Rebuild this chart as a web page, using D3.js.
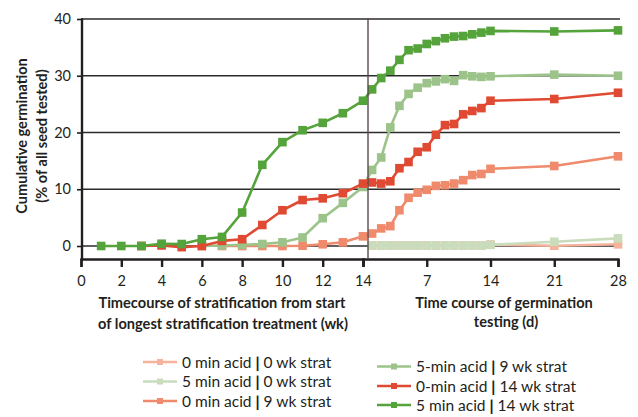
<!DOCTYPE html>
<html><head><meta charset="utf-8">
<script src="https://cdn.jsdelivr.net/npm/d3@7"></script>
<style>
html,body{margin:0;padding:0;background:#fff;}
svg{display:block;font-family:Lato,"Open Sans",sans-serif;}
</style></head>
<body>
<svg id="chart" width="638" height="417"></svg>
<script>
// ---- data ----
const weeks = [1,2,3,4,5,6,7,8,9,10,11,12,13,14];
const days  = [1,2,3,4,5,6,7,8,9,10,11,12,13,14,21,28];
const weekTicks = [0,2,4,6,8,10,12,14];
const dayTicks = [7,14,21,28];
const yTicks = [0,10,20,30,40];

const seriesNames = [
  ["0 min acid ", " 0 wk strat"],
  ["5 min acid  ", " 0 wk strat"],
  ["0 min acid ", " 9 wk strat"],
  ["5-min acid ", " 9 wk strat"],
  ["0-min acid ", " 14 wk strat"],
  ["5 min acid ", " 14 wk strat"]
];
const seriesColors = ["#f5b39c","#c9ddbd","#ef8a6c","#9cc48a","#e04a33","#55a33b"];

// left segment (weeks 1..14), null = not measured
const left0 = [null,null,null,null,null,null,null,null,null,null,null,null,null,null];
const left1 = [null,null,null,null,null,null,null,null,null,null,null,null,null,null];
const left2 = [null,null,null,null,null,null,0,0,0,0,0.05,0.3,0.65,1.7];
const left3 = [null,null,null,null,null,0,0.1,0.2,0.35,0.65,1.5,4.9,7.6,10.4];
const left4 = [null,null,0,0.1,-0.2,0,0.9,1.2,3.7,6.3,8.1,8.4,9.3,11.0];
const left5 = [0,0,0,0.4,0.35,1.2,1.6,5.9,14.3,18.3,20.4,21.7,23.4,25.6];

// right segment (days 1..14, 21, 28)
const right0 = [0.1,0.1,0.1,0.1,0.1,0.1,0.1,0.1,0.1,0.1,0.1,0.1,0.1,0.25,0.05,0.3];
const right1 = [0.1,0.1,0.1,0.1,0.1,0.1,0.1,0.1,0.1,0.1,0.1,0.1,0.1,0.2,0.75,1.35];
const right2 = [2.2,3.1,3.5,6.3,8.5,9.4,9.9,10.6,10.7,11.0,11.6,12.5,12.7,13.6,14.1,15.8];
const right3 = [13.4,15.6,20.9,24.7,26.8,27.9,28.7,29.0,29.4,29.1,30.1,29.9,29.8,29.9,30.2,30.0];
const right4 = [11.2,11.0,11.4,13.7,14.8,16.6,17.4,19.6,21.3,21.5,23.2,23.8,24.3,25.6,25.9,27.0];
const right5 = [27.6,29.6,30.9,32.8,34.5,34.8,35.6,36.1,36.6,36.9,37.0,37.3,37.6,37.9,37.8,38.0];

const lefts = [left0,left1,left2,left3,left4,left5];
const rights = [right0,right1,right2,right3,right4,right5];

// ---- scales ----
const svg = d3.select("#chart");
const xL = d3.scaleLinear().domain([0,14]).range([81,363]);
const xR = d3.scaleLinear().domain([0,28]).range([363,618]);
const y = d3.scaleLinear().domain([0,40]).range([246,19]);
const axisY = y(0) + 13;
const ink = "#231f20";

// gridlines with left ticks
const gy = svg.append("g").attr("transform","translate(82,0)")
  .call(d3.axisLeft(y).tickValues(yTicks).tickSize(5).tickPadding(6).tickFormat(d3.format("d")));
gy.select(".domain").remove();
gy.selectAll(".tick line").attr("stroke",ink).attr("stroke-width",1.6);
gy.selectAll(".tick text").attr("font-size",14.5).attr("fill",ink).attr("font-family","Lato");
svg.append("g").selectAll("line").data(yTicks).join("line")
  .attr("x1",82).attr("x2",620).attr("y1",d=>y(d)).attr("y2",d=>y(d))
  .attr("stroke","#2b2b2b").attr("stroke-width",1.6);

// y axis line
svg.append("line").attr("x1",82).attr("x2",82).attr("y1",y(40)-0.8).attr("y2",axisY+1)
  .attr("stroke",ink).attr("stroke-width",2.4);

// x axes
const gxl = svg.append("g").attr("transform",`translate(0,${axisY})`)
  .call(d3.axisBottom(xL).tickValues(weekTicks).tickSize(8).tickPadding(9));
const gxr = svg.append("g").attr("transform",`translate(0,${axisY})`)
  .call(d3.axisBottom(xR).tickValues(dayTicks).tickSize(8).tickPadding(9));
[gxl,gxr].forEach(g=>{
  g.select(".domain").attr("stroke",ink).attr("stroke-width",2.4);
  g.selectAll(".tick line").attr("stroke",ink).attr("stroke-width",2.4);
  g.selectAll(".tick text").attr("font-size",14.5).attr("fill",ink).attr("font-family","Lato");
});

// ---- series ----
const line = d3.line().x(d=>d.x).y(d=>d.y);
seriesColors.forEach((c,i)=>{
  const pts = [];
  weeks.forEach((w,j)=>{ if(lefts[i][j]!==null) pts.push({x:xL(w), y:y(lefts[i][j])}); });
  days.forEach((d,j)=>{ if(rights[i][j]!==null) pts.push({x:xR(d), y:y(rights[i][j])}); });
  const g = svg.append("g");
  g.append("path").attr("d",line(pts)).attr("fill","none").attr("stroke",c)
    .attr("stroke-width",2.6).attr("stroke-linejoin","round");
  g.selectAll("rect").data(pts).join("rect")
    .attr("x",d=>d.x-4.3).attr("y",d=>d.y-4.3).attr("width",8.6).attr("height",8.6)
    .attr("fill",c);
});

// separator between the two time courses (on top)
svg.append("line").attr("x1",xR(0.55)).attr("x2",xR(0.55)).attr("y1",y(40)-1).attr("y2",axisY)
  .attr("stroke","#5b4b4b").attr("stroke-width",1.4);

// ---- axis titles ----
const title = (x,yy,txt)=>svg.append("text").attr("x",x).attr("y",yy)
  .attr("text-anchor","middle").attr("font-size",14.6).attr("font-weight",700)
  .attr("fill",ink).text(txt);
title(222,308,"Timecourse of stratification from start");
title(223,329,"of longest stratification treatment (wk)");
title(504,308,"Time course of germination");
title(506,327,"testing (d)");
svg.append("text").attr("transform","translate(27,136) rotate(-90)")
  .attr("text-anchor","middle").attr("font-size",14.6).attr("font-weight",700).attr("fill",ink)
  .text("Cumulative germination");
svg.append("text").attr("transform","translate(47,136) rotate(-90)")
  .attr("text-anchor","middle").attr("font-size",14.6).attr("font-weight",700).attr("fill",ink)
  .text("(% of all seed tested)");

// ---- legend ----
const legendPos = [[143,362],[143,381.5],[143,401],[377,366.5],[377,386],[377,405]];
seriesColors.forEach((c,i)=>{
  const [lx,ly] = legendPos[i];
  const g = svg.append("g").attr("transform",`translate(${lx},${ly})`);
  g.append("line").attr("x1",0).attr("x2",34).attr("y1",0).attr("y2",0)
    .attr("stroke",c).attr("stroke-width",2.6);
  g.append("rect").attr("x",14).attr("y",-3).attr("width",6).attr("height",6).attr("fill",c);
  const t = g.append("text").attr("x",39).attr("y",5.5).attr("font-size",15.5).attr("fill",ink);
  t.append("tspan").text(seriesNames[i][0]);
  t.append("tspan").attr("font-weight",900).text("|");
  t.append("tspan").text(seriesNames[i][1]);
});
</script>
</body></html>
